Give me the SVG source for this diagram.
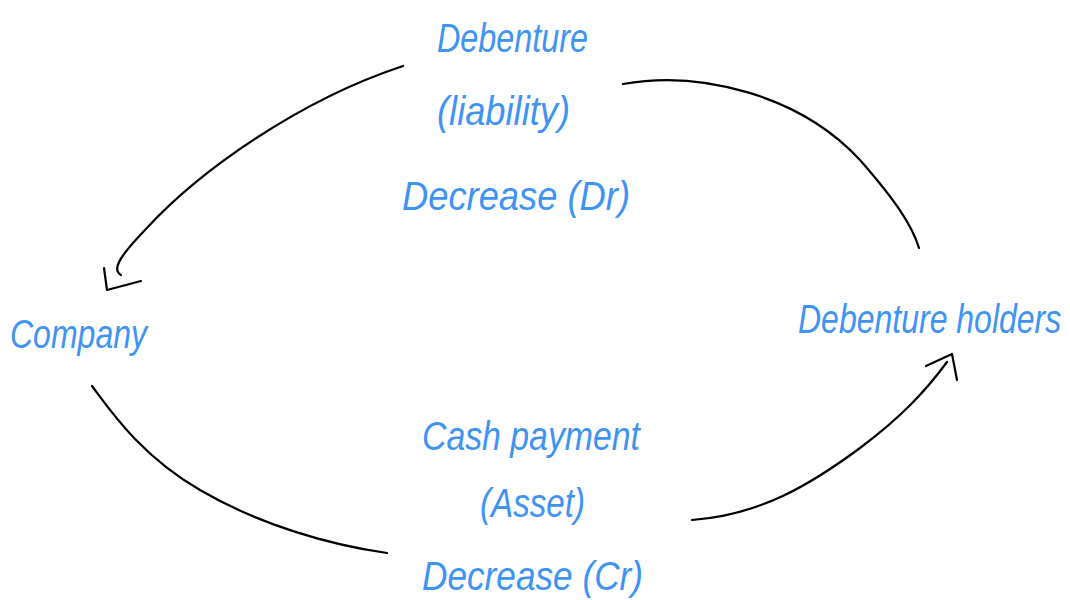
<svg xmlns="http://www.w3.org/2000/svg" width="1070" height="600" viewBox="0 0 1070 600">
<style>
.t{font-family:"Liberation Sans","DejaVu Sans",sans-serif;font-style:italic;fill:#3f93f2;font-size:40px;}
.c{fill:none;stroke:#000;stroke-width:2.2;stroke-linecap:round;stroke-linejoin:round;}
</style>
<rect width="1070" height="600" fill="#fff"/>
<g id="liability">
<text class="t" x="437" y="52" textLength="151" lengthAdjust="spacingAndGlyphs">Debenture</text>
<text class="t" x="437" y="125" textLength="133" lengthAdjust="spacingAndGlyphs">(liability)</text>
<text class="t" x="402" y="210" textLength="228" lengthAdjust="spacingAndGlyphs">Decrease (Dr)</text>
</g>
<g id="company">
<text class="t" x="10" y="348" textLength="137" lengthAdjust="spacingAndGlyphs">Company</text>
</g>
<g id="holders" transform="translate(798,333) scale(0.8,1)">
<text class="t" x="0" y="0" font-size="38">Debenture holders</text>
</g>
<g id="cash">
<text class="t" x="422" y="450" textLength="218" lengthAdjust="spacingAndGlyphs">Cash payment</text>
<text class="t" x="480" y="517" textLength="105" lengthAdjust="spacingAndGlyphs">(Asset)</text>
<text class="t" x="422" y="590" textLength="221" lengthAdjust="spacingAndGlyphs">Decrease (Cr)</text>
</g>
<g id="connectors">
<path class="c" d="M403,66 C300,100 200,170 145,230 C118,258 112,270 121,275"/>
<path class="c" d="M104,268 L107,290 L141,281"/>
<path class="c" d="M623,84 C700,70 800,95 860,160 C895,200 912,225 919,248"/>
<path class="c" d="M92,386 C110,410 140,455 200,490 C260,525 330,545 387,553"/>
<path class="c" d="M692,520 C760,515 810,485 860,448 C900,418 925,392 947,362"/>
<path class="c" d="M926,366 L952,354 L957,380"/>
</g>
</svg>
